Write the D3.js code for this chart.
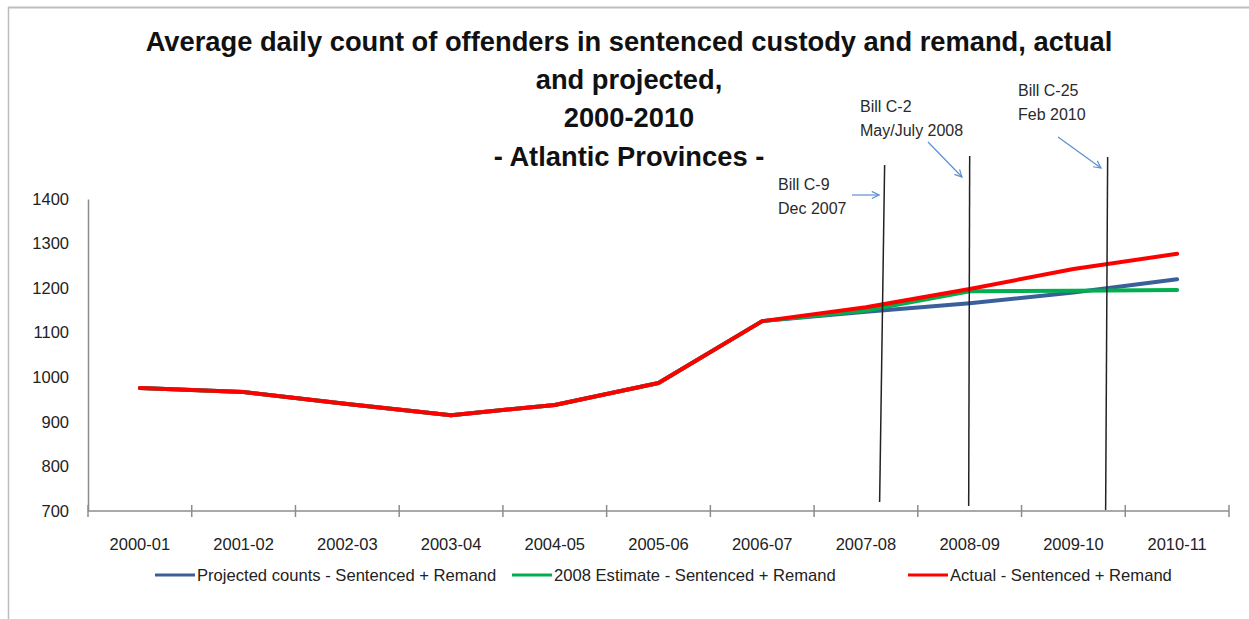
<!DOCTYPE html>
<html>
<head>
<meta charset="utf-8">
<script src="https://cdn.jsdelivr.net/npm/d3@7"></script>
<style>
  html, body { margin: 0; padding: 0; background: #fff; }
  svg { display: block; }
  text { font-family: "Liberation Sans", Arial, sans-serif; }
</style>
</head>
<body>
<svg id="chart" width="1249" height="619"></svg>
<script>
// ---- data ----
const categories = ["2000-01","2001-02","2002-03","2003-04","2004-05","2005-06","2006-07","2007-08","2008-09","2009-10","2010-11"];
const projected = [976, 967, 940, 915, 938, 987, 1126, 1147, 1166, 1190, 1220];
const estimate2008 = [976, 967, 940, 915, 938, 987, 1126, 1150, 1193, 1194, 1196];
const actual = [976, 967, 940, 915, 938, 987, 1126, 1157, 1198, 1243, 1277];
const yTicks = [700, 800, 900, 1000, 1100, 1200, 1300, 1400];
const seriesNames = ["Projected counts - Sentenced + Remand", "2008 Estimate - Sentenced + Remand", "Actual - Sentenced + Remand"];
const seriesColors = ["#3a5f9a", "#00b050", "#ff0000"];
// bill events: position in category-index units, label lines
const billPos = [7.18, 8.0, 9.33];
const billLines = [["Bill C-9", "Dec 2007"], ["Bill C-2", "May/July 2008"], ["Bill C-25", "Feb 2010"]];
const titleLines = ["Average daily count of offenders in sentenced custody and remand, actual", "and projected,", "2000-2010", "- Atlantic Provinces -"];

// ---- layout ----
const svg = d3.select("#chart");
const mLeft = 88, mRight = 1229, mTop = 199, mBottom = 511;

const x = d3.scaleLinear().domain([-0.5, categories.length - 0.5]).range([mLeft, mRight]);
const y = d3.scaleLinear().domain([700, 1400]).range([mBottom, mTop]);

// outer frame lines
svg.append("line").attr("x1", 8).attr("x2", 1249).attr("y1", 7.5).attr("y2", 7.5).attr("stroke", "#bdbdbd").attr("stroke-width", 2);
svg.append("line").attr("x1", 8.5).attr("x2", 8.5).attr("y1", 7).attr("y2", 619).attr("stroke", "#bdbdbd").attr("stroke-width", 1.5);

// title
const title = svg.append("g");
const titleY = [51, 89, 127, 166];
titleLines.forEach((t, i) => {
  title.append("text").attr("x", 629).attr("y", titleY[i]).attr("text-anchor", "middle")
    .attr("font-size", 27.3).attr("font-weight", "bold").attr("fill", "#111").text(t);
});

// y axis
const yAxis = d3.axisLeft(y).tickValues(yTicks).tickSize(0).tickPadding(19).tickFormat(d3.format("d"));
const gy = svg.append("g").attr("transform", `translate(${mLeft},0)`).call(yAxis);
gy.select(".domain").attr("stroke", "#8c8c8c").attr("stroke-width", 1.5);
gy.selectAll("text").attr("font-size", 16.5).attr("fill", "#222").attr("font-family", "'Liberation Sans', Arial, sans-serif");

// x axis (boundary ticks)
const boundaries = d3.range(0, categories.length + 1).map(i => i - 0.5);
const gx = svg.append("g").attr("transform", `translate(0,${mBottom})`);
gx.append("line").attr("x1", mLeft).attr("x2", mRight).attr("stroke", "#8c8c8c").attr("stroke-width", 1.5);
gx.selectAll("line.tk").data(boundaries).enter().append("line").attr("class", "tk")
  .attr("x1", d => x(d)).attr("x2", d => x(d)).attr("y1", -6).attr("y2", 6)
  .attr("stroke", "#8c8c8c").attr("stroke-width", 1.5);
gx.selectAll("text").data(categories).enter().append("text")
  .attr("x", (d, i) => x(i)).attr("y", 39).attr("text-anchor", "middle")
  .attr("font-size", 16.5).attr("fill", "#222").text(d => d);

// series lines
const line = d3.line().x((d, i) => x(i)).y(d => y(d));
[projected, estimate2008, actual].forEach((vals, k) => {
  svg.append("path").datum(vals).attr("d", line).attr("fill", "none")
    .attr("stroke", seriesColors[k]).attr("stroke-width", 4).attr("stroke-linejoin", "round").attr("stroke-linecap", "round");
});

// bill vertical lines
const billTop = [165, 156, 157];
const billBottom = [502, 506, 510];
const billTilt = [-5, -1, -2];
billPos.forEach((p, i) => {
  svg.append("line").attr("x1", x(p)).attr("x2", x(p) + billTilt[i]).attr("y1", billTop[i]).attr("y2", billBottom[i])
    .attr("stroke", "#222").attr("stroke-width", 1.5);
});

// bill labels
const labelPos = [[778, 190], [860, 112], [1018, 96]];
billLines.forEach((ls, i) => {
  ls.forEach((t, j) => {
    svg.append("text").attr("x", labelPos[i][0]).attr("y", labelPos[i][1] + j * 24)
      .attr("font-size", 16).attr("fill", "#2a2a2a").text(t);
  });
});

// arrows
const defs = svg.append("defs");
defs.append("marker").attr("id", "arr").attr("viewBox", "0 0 10 10").attr("refX", 9).attr("refY", 5)
  .attr("markerWidth", 9).attr("markerHeight", 9).attr("orient", "auto").attr("markerUnits", "userSpaceOnUse")
  .append("path").attr("d", "M1,1 L9,5 L1,9").attr("fill", "none").attr("stroke", "#5b8fd0").attr("stroke-width", 1.3);
const arrows = [[852, 195, 879, 195], [928, 142, 962, 177], [1058, 137, 1101, 168]];
arrows.forEach(a => {
  svg.append("line").attr("x1", a[0]).attr("y1", a[1]).attr("x2", a[2]).attr("y2", a[3])
    .attr("stroke", "#5b8fd0").attr("stroke-width", 1.2).attr("marker-end", "url(#arr)");
});

// legend
const legendX = [155, 512, 908];
seriesNames.forEach((n, k) => {
  const g = svg.append("g").attr("transform", `translate(${legendX[k]},575)`);
  g.append("line").attr("x1", 0).attr("x2", 40).attr("y1", 0).attr("y2", 0).attr("stroke", seriesColors[k]).attr("stroke-width", 3);
  g.append("text").attr("x", 42).attr("y", 6).attr("font-size", 16.6).attr("fill", "#222").text(n);
});
</script>
</body>
</html>
